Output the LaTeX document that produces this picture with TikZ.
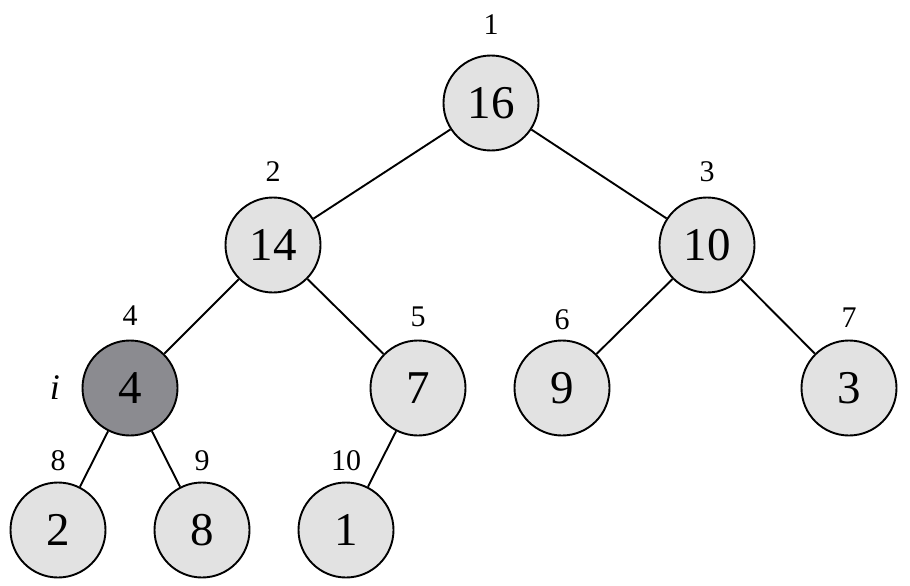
\documentclass[tikz,border=0pt]{standalone}
\usepackage{fontspec}
\setmainfont{Liberation Serif}
\definecolor{keylight}{HTML}{E2E2E2}
\definecolor{keydark}{HTML}{8B8B90}

\begin{document}
\begin{tikzpicture}[x=1pt,y=-1pt,
    heapnode/.style={draw,circle,line width=1.9pt,minimum size=95pt,inner sep=0pt,
      font=\fontsize{47}{49}\selectfont},
    idxlabel/.style={inner sep=0pt,font=\fontsize{30}{32}\selectfont},
    edge/.style={line width=1.9pt}]
  \useasboundingbox (0,0) rectangle (910,586);
  % heap nodes with array index above
  \foreach \k/\x/\y/\v/\ly/\c in {1/491/103/16/25/keylight, 2/273/245/14/172/keylight,
      3/707/245/10/172/keylight, 4/130/388/4/316/keydark, 5/418/388/7/317/keylight,
      6/562/388/9/320/keylight, 7/849/388/3/318/keylight, 8/58/530/2/461/keylight,
      9/202/530/8/461/keylight, 10/346/530/1/461/keylight} {
    \node[heapnode,fill=\c] (n\k) at (\x,\y) {\v};
    \node[idxlabel] (l\k) at (\x,\ly) {\k};
  }
  % tree edges
  \foreach \a/\b in {1/2,1/3,2/4,2/5,3/6,3/7,4/8,4/9,5/10}
    \draw[edge] (n\a) -- (n\b);
  % current index
  \node[inner sep=0pt,font=\fontsize{36}{38}\selectfont\itshape] (ilab) at (55,388) {i};
\end{tikzpicture}
\end{document}
